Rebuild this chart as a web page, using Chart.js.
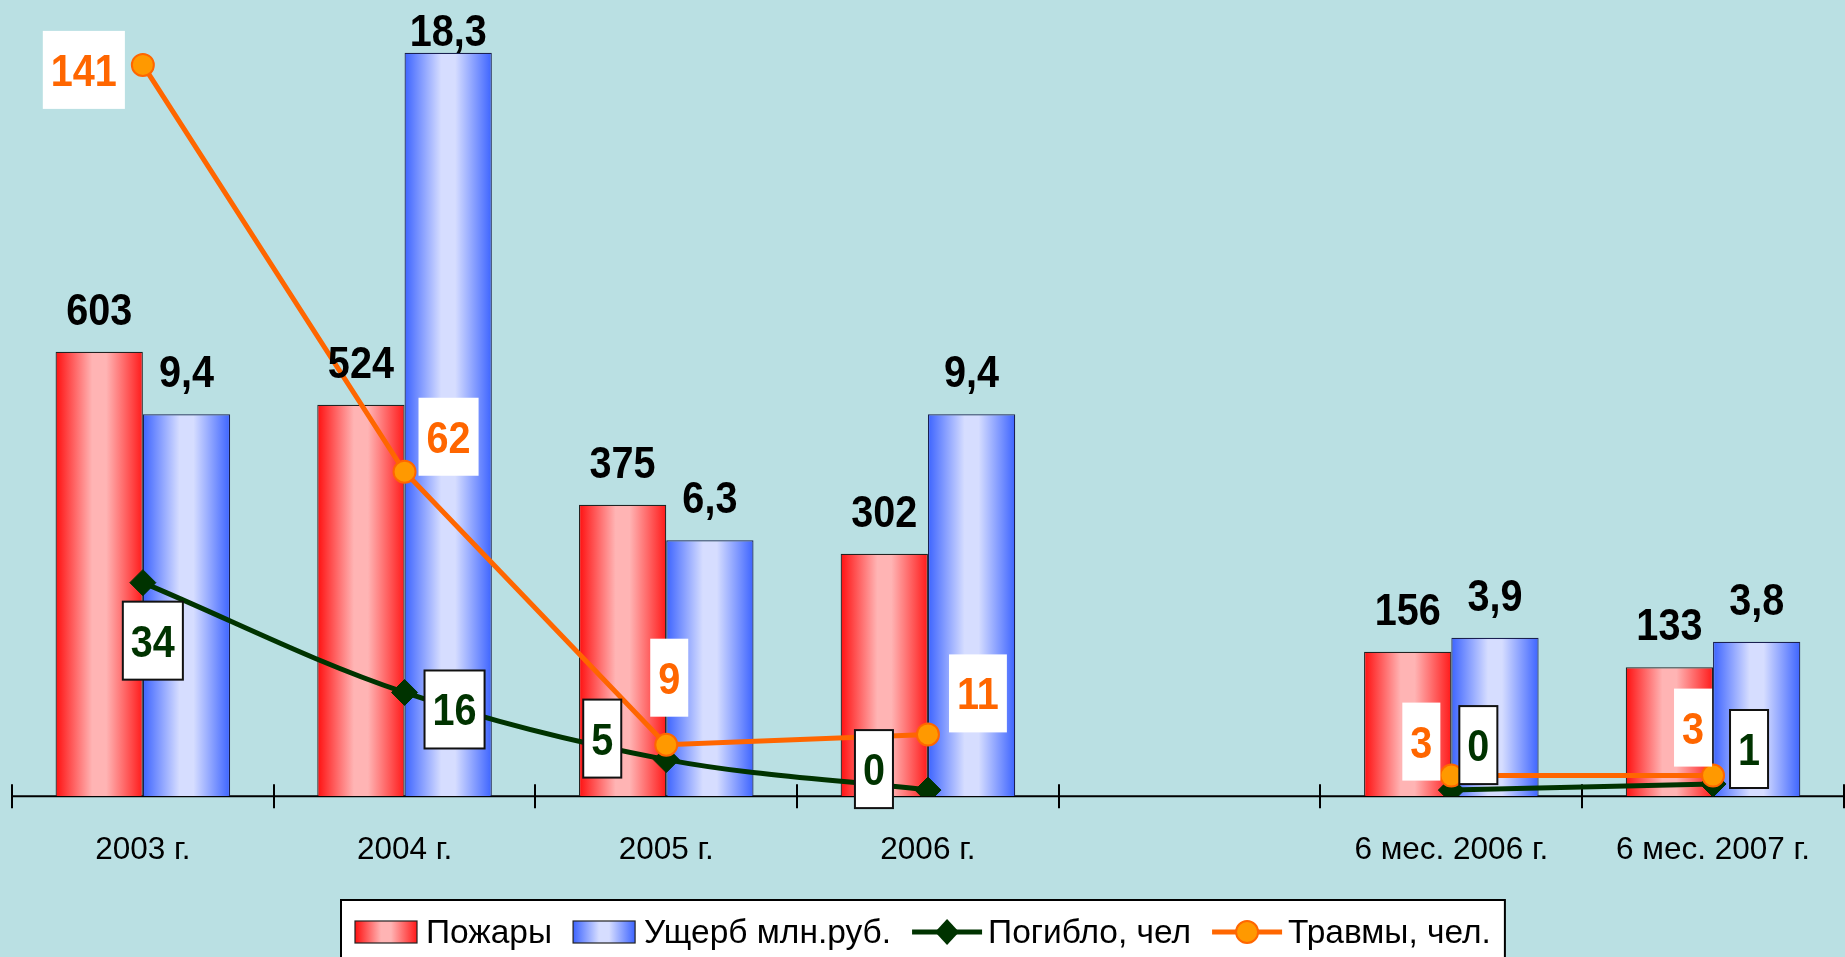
<!DOCTYPE html>
<html><head><meta charset="utf-8">
<script src="https://cdn.jsdelivr.net/npm/chart.js@4.4.1/dist/chart.umd.min.js"></script>
<style>html,body{margin:0;padding:0;background:#bae0e3;overflow:hidden}canvas{display:block}</style>
</head><body>
<canvas id="c" width="1845" height="957"></canvas>
<script>
// ---- data ----
const categories = ['2003 г.', '2004 г.', '2005 г.', '2006 г.', '', '6 мес. 2006 г.', '6 мес. 2007 г.'];
const fires = [603, 524, 375, 302, null, 156, 133];
const damage = [9.4, 18.3, 6.3, 9.4, null, 3.9, 3.8];
const deaths = [34, 16, 5, 0, null, 0, 1];
const injuries = [141, 62, 9, 11, null, 3, 3];
const seriesNames = ['Пожары', 'Ущерб млн.руб.', 'Погибло, чел', 'Травмы, чел.'];

// ---- label placement (box centre offset from its point, px) ----
const deathLabelOffsets = [[10,58],[50,17],[-64,-21],[-54,-21],null,[27,-45],[36,-35]];
const injuryLabelOffsets = [[-59,5],[44,-35],[3,-67],[50,-41],null,[-30,-34],[-20,-48]];

const BAR_PCT = 0.667;
const NUM_FONT = "bold 45px 'Liberation Sans', Arial, sans-serif";
const NUM_SX = 0.88;

function gradStops(g, which) {
  if (which === 0) {
    g.addColorStop(0, '#ff1010'); g.addColorStop(0.42, '#ffb4b4');
    g.addColorStop(0.58, '#ffb4b4'); g.addColorStop(1, '#ff1a1a');
  } else {
    g.addColorStop(0, '#3d64ff'); g.addColorStop(0.42, '#d6ddff');
    g.addColorStop(0.58, '#d6ddff'); g.addColorStop(1, '#3d64ff');
  }
  return g;
}
function barGrad(c, which) {
  const chart = c.chart, xs = chart.scales && chart.scales.x;
  if (c.type !== 'data' || !xs || !chart.chartArea) return which === 0 ? '#ff8080' : '#8099ff';
  const center = xs.getPixelForValue(c.dataIndex);
  const w = (xs.width / categories.length) * BAR_PCT / 2;
  const x0 = which === 0 ? center - w : center;
  return gradStops(chart.ctx.createLinearGradient(x0, 0, x0 + w, 0), which);
}
function fmt(v) { return String(v).replace('.', ','); }
function numText(ctx, text, x, y, color) {
  ctx.save(); ctx.font = NUM_FONT; ctx.fillStyle = color;
  ctx.textAlign = 'center'; ctx.textBaseline = 'alphabetic';
  ctx.translate(x, y); ctx.scale(NUM_SX, 1); ctx.fillText(text, 0, 0); ctx.restore();
}
function numWidth(ctx, text) { ctx.save(); ctx.font = NUM_FONT; const w = ctx.measureText(text).width * NUM_SX; ctx.restore(); return w; }

const decor = {
  id: 'decor',
  beforeDatasetsDraw(chart) {
    const {ctx, chartArea: a, scales: {x}} = chart;
    ctx.save();
    ctx.strokeStyle = '#000'; ctx.lineWidth = 2;
    const y = a.bottom;
    ctx.beginPath(); ctx.moveTo(a.left, y); ctx.lineTo(a.right, y); ctx.stroke();
    const cw = (x.right - x.left) / categories.length;
    for (let i = 0; i <= categories.length; i++) {
      const px = Math.round(x.getPixelForValue(0) - cw / 2 + i * cw);
      ctx.beginPath(); ctx.moveTo(px, y - 12); ctx.lineTo(px, y + 12); ctx.stroke();
    }
    ctx.restore();
  },
  afterDatasetsDraw(chart) {
    const ctx = chart.ctx;
    [0, 1].forEach(di => {
      const meta = chart.getDatasetMeta(di);
      meta.data.forEach((el, i) => {
        const v = chart.data.datasets[di].data[i];
        if (v == null) return;
        numText(ctx, fmt(v), el.x, Math.max(el.y - 27, 46), '#000');
      });
    });
    const drawBoxes = (di, offs, color, border) => {
      const meta = chart.getDatasetMeta(di);
      meta.data.forEach((el, i) => {
        const v = chart.data.datasets[di].data[i];
        if (v == null || !offs[i]) return;
        const t = fmt(v);
        const w = numWidth(ctx, t) + 16, h = 78;
        const cx = el.x + offs[i][0], cy = el.y + offs[i][1];
        ctx.save();
        ctx.fillStyle = '#fff';
        ctx.fillRect(cx - w / 2, cy - h / 2, w, h);
        if (border) { ctx.strokeStyle = '#111'; ctx.lineWidth = 2; ctx.strokeRect(cx - w / 2, cy - h / 2, w, h); }
        ctx.restore();
        numText(ctx, t, cx, cy + 16, color);
      });
    };
    drawBoxes(2, deathLabelOffsets, '#003300', true);
    drawBoxes(3, injuryLabelOffsets, '#ff6600', false);
  },
  afterDraw(chart) {
    const ctx = chart.ctx;
    ctx.save();
    ctx.font = "33.5px 'Liberation Sans', Arial, sans-serif";
    const tw = seriesNames.map(s => ctx.measureText(s).width);
    const sw = [62, 62, 70, 70], gapT = [9, 9, 6, 6], gap = 21, pad = 14;
    let total = 0;
    for (let i = 0; i < 4; i++) total += sw[i] + gapT[i] + tw[i] + (i < 3 ? gap : 0);
    const boxW = total + 2 * pad;
    const bx = Math.round(chart.width / 2 - boxW / 2), by = 900;
    ctx.fillStyle = '#fff'; ctx.fillRect(bx, by, boxW, 80);
    ctx.strokeStyle = '#000'; ctx.lineWidth = 2; ctx.strokeRect(bx, by, boxW, 80);
    let x = bx + pad;
    const cy = 932;
    for (let i = 0; i < 4; i++) {
      if (i < 2) {
        ctx.fillStyle = gradStops(ctx.createLinearGradient(x, 0, x + sw[i], 0), i);
        ctx.fillRect(x, cy - 11, sw[i], 22);
        ctx.strokeStyle = '#222'; ctx.lineWidth = 1.2; ctx.strokeRect(x, cy - 11, sw[i], 22);
      } else {
        const col = i === 2 ? '#003300' : '#ff6600';
        ctx.strokeStyle = col; ctx.lineWidth = 5;
        ctx.beginPath(); ctx.moveTo(x, cy); ctx.lineTo(x + sw[i], cy); ctx.stroke();
        const mx = x + sw[i] / 2;
        if (i === 2) {
          ctx.fillStyle = col; ctx.beginPath();
          ctx.moveTo(mx, cy - 13); ctx.lineTo(mx + 12, cy); ctx.lineTo(mx, cy + 13); ctx.lineTo(mx - 12, cy); ctx.closePath(); ctx.fill();
        } else {
          ctx.fillStyle = '#ff9900'; ctx.strokeStyle = '#ff6600'; ctx.lineWidth = 2;
          ctx.beginPath(); ctx.arc(mx, cy, 11, 0, Math.PI * 2); ctx.fill(); ctx.stroke();
        }
      }
      x += sw[i] + gapT[i];
      ctx.fillStyle = '#000'; ctx.textAlign = 'left'; ctx.textBaseline = 'alphabetic';
      ctx.fillText(seriesNames[i], x, 943);
      x += tw[i] + gap;
    }
    ctx.restore();
  }
};

new Chart(document.getElementById('c'), {
  data: {
    labels: categories,
    datasets: [
      { type: 'bar', label: seriesNames[0], data: fires, yAxisID: 'yF', base: -59,
        backgroundColor: c => barGrad(c, 0), borderColor: '#222', borderWidth: 1.2,
        categoryPercentage: BAR_PCT, barPercentage: 1, order: 3 },
      { type: 'bar', label: seriesNames[1], data: damage, yAxisID: 'yD',
        backgroundColor: c => barGrad(c, 1), borderColor: '#1a2050', borderWidth: 1.2,
        categoryPercentage: BAR_PCT, barPercentage: 1, order: 3 },
      { type: 'line', label: seriesNames[2], data: deaths, yAxisID: 'yK',
        borderColor: '#003300', borderWidth: 5, tension: 0.35, spanGaps: false,
        pointStyle: 'rectRot', pointRadius: 13, pointBackgroundColor: '#003300',
        pointBorderColor: '#003300', pointBorderWidth: 1, order: 2 },
      { type: 'line', label: seriesNames[3], data: injuries, yAxisID: 'yI',
        borderColor: '#ff6600', borderWidth: 5, tension: 0, spanGaps: false,
        pointStyle: 'circle', pointRadius: 11, pointBackgroundColor: '#ff9900',
        pointBorderColor: '#ff6600', pointBorderWidth: 2, order: 1 }
    ]
  },
  options: {
    responsive: false, animation: false, devicePixelRatio: 1,
    layout: { autoPadding: false, padding: { left: 12, right: 0, top: 0, bottom: 53 } },
    plugins: { legend: { display: false }, tooltip: { enabled: false } },
    scales: {
      x: { type: 'category', offset: true, grid: { display: false, drawTicks: false }, border: { display: false },
           ticks: { color: '#000', padding: 35, maxRotation: 0, autoSkip: false,
                    font: { family: "'Liberation Sans', Arial, sans-serif", size: 31.5 } } },
      yF: { display: false, min: -59, max: 1127 },
      yD: { display: false, min: 0, max: 19.6 },
      yK: { display: false, min: -1, max: 129.5 },
      yI: { display: false, min: -1, max: 153.6 }
    }
  },
  plugins: [decor]
});
</script>
</body></html>
